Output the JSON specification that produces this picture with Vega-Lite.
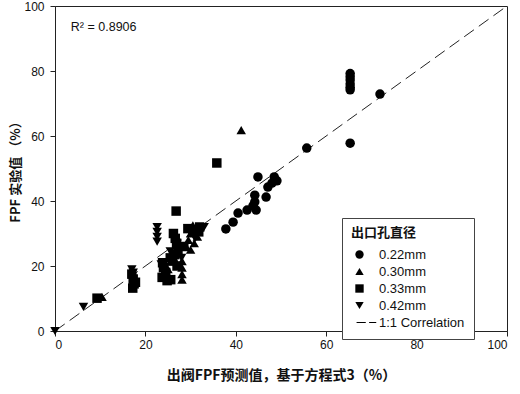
{
  "$schema": "https://vega.github.io/schema/vega-lite/v6.json",
  "width": 452,
  "height": 325,
  "autosize": {"type": "none"},
  "padding": {"left": 55, "top": 6, "right": 13, "bottom": 63},
  "background": "white",
  "config": {
    "view": {"stroke": "#222", "strokeWidth": 1},
    "font": "Liberation Sans",
    "axis": {
      "grid": false,
      "domainColor": "#222",
      "tickColor": "#222",
      "tickSize": 5,
      "labelFont": "Liberation Sans",
      "labelFontSize": 12,
      "labelColor": "#111",
      "titleFont": "Noto Sans CJK SC",
      "titleFontWeight": "bold",
      "titleColor": "#111"
    }
  },
  "datasets": {
    "pts": [
      {"x": 65.3, "y": 79.2, "d": "0.22mm"},
      {"x": 65.3, "y": 78.2, "d": "0.22mm"},
      {"x": 65.3, "y": 77.2, "d": "0.22mm"},
      {"x": 65.3, "y": 76.0, "d": "0.22mm"},
      {"x": 65.3, "y": 75.0, "d": "0.22mm"},
      {"x": 65.3, "y": 74.2, "d": "0.22mm"},
      {"x": 71.9, "y": 72.9, "d": "0.22mm"},
      {"x": 65.3, "y": 57.8, "d": "0.22mm"},
      {"x": 55.7, "y": 56.3, "d": "0.22mm"},
      {"x": 44.9, "y": 47.4, "d": "0.22mm"},
      {"x": 48.5, "y": 47.4, "d": "0.22mm"},
      {"x": 49.1, "y": 46.2, "d": "0.22mm"},
      {"x": 48.0, "y": 45.5, "d": "0.22mm"},
      {"x": 47.1, "y": 44.3, "d": "0.22mm"},
      {"x": 44.2, "y": 41.8, "d": "0.22mm"},
      {"x": 46.7, "y": 41.2, "d": "0.22mm"},
      {"x": 44.2, "y": 39.7, "d": "0.22mm"},
      {"x": 43.8, "y": 38.5, "d": "0.22mm"},
      {"x": 44.5, "y": 37.2, "d": "0.22mm"},
      {"x": 42.5, "y": 37.2, "d": "0.22mm"},
      {"x": 40.5, "y": 36.3, "d": "0.22mm"},
      {"x": 39.4, "y": 33.5, "d": "0.22mm"},
      {"x": 37.8, "y": 31.4, "d": "0.22mm"},
      {"x": 41.2, "y": 61.8, "d": "0.30mm"},
      {"x": 10.4, "y": 10.5, "d": "0.30mm"},
      {"x": 28.1, "y": 21.5, "d": "0.30mm"},
      {"x": 28.1, "y": 19.5, "d": "0.30mm"},
      {"x": 28.1, "y": 17.5, "d": "0.30mm"},
      {"x": 28.1, "y": 15.8, "d": "0.30mm"},
      {"x": 30.5, "y": 32.5, "d": "0.30mm"},
      {"x": 31.0, "y": 31.0, "d": "0.30mm"},
      {"x": 30.0, "y": 30.0, "d": "0.30mm"},
      {"x": 31.5, "y": 29.0, "d": "0.30mm"},
      {"x": 29.5, "y": 28.0, "d": "0.30mm"},
      {"x": 30.8, "y": 27.0, "d": "0.30mm"},
      {"x": 29.0, "y": 26.0, "d": "0.30mm"},
      {"x": 30.0, "y": 25.0, "d": "0.30mm"},
      {"x": 27.5, "y": 24.0, "d": "0.30mm"},
      {"x": 26.5, "y": 22.0, "d": "0.30mm"},
      {"x": 25.0, "y": 19.0, "d": "0.30mm"},
      {"x": 35.8, "y": 51.7, "d": "0.33mm"},
      {"x": 26.8, "y": 36.9, "d": "0.33mm"},
      {"x": 9.3, "y": 10.1, "d": "0.33mm"},
      {"x": 17.0, "y": 17.5, "d": "0.33mm"},
      {"x": 17.3, "y": 16.0, "d": "0.33mm"},
      {"x": 17.5, "y": 14.5, "d": "0.33mm"},
      {"x": 17.2, "y": 13.2, "d": "0.33mm"},
      {"x": 17.8, "y": 15.0, "d": "0.33mm"},
      {"x": 23.8, "y": 21.0, "d": "0.33mm"},
      {"x": 24.0, "y": 19.5, "d": "0.33mm"},
      {"x": 24.5, "y": 18.0, "d": "0.33mm"},
      {"x": 23.7, "y": 16.5, "d": "0.33mm"},
      {"x": 24.8, "y": 15.5, "d": "0.33mm"},
      {"x": 25.6, "y": 15.8, "d": "0.33mm"},
      {"x": 26.2, "y": 30.0, "d": "0.33mm"},
      {"x": 26.6, "y": 28.5, "d": "0.33mm"},
      {"x": 26.9, "y": 27.0, "d": "0.33mm"},
      {"x": 27.2, "y": 25.0, "d": "0.33mm"},
      {"x": 26.5, "y": 23.5, "d": "0.33mm"},
      {"x": 26.0, "y": 21.5, "d": "0.33mm"},
      {"x": 30.5, "y": 30.8, "d": "0.33mm"},
      {"x": 29.4, "y": 31.5, "d": "0.33mm"},
      {"x": 31.8, "y": 30.5, "d": "0.33mm"},
      {"x": 32.0, "y": 32.0, "d": "0.33mm"},
      {"x": 28.5, "y": 26.0, "d": "0.33mm"},
      {"x": 25.5, "y": 22.5, "d": "0.33mm"},
      {"x": 27.0, "y": 20.0, "d": "0.33mm"},
      {"x": 0.0, "y": 0.0, "d": "0.42mm"},
      {"x": 6.3, "y": 7.4, "d": "0.42mm"},
      {"x": 22.6, "y": 32.0, "d": "0.42mm"},
      {"x": 22.6, "y": 30.5, "d": "0.42mm"},
      {"x": 22.6, "y": 29.0, "d": "0.42mm"},
      {"x": 22.6, "y": 27.5, "d": "0.42mm"},
      {"x": 17.0, "y": 19.0, "d": "0.42mm"},
      {"x": 17.3, "y": 18.0, "d": "0.42mm"},
      {"x": 23.5, "y": 20.5, "d": "0.42mm"},
      {"x": 25.5, "y": 24.5, "d": "0.42mm"},
      {"x": 29.5, "y": 31.5, "d": "0.42mm"},
      {"x": 31.0, "y": 28.5, "d": "0.42mm"},
      {"x": 28.0, "y": 22.5, "d": "0.42mm"},
      {"x": 33.0, "y": 32.0, "d": "0.42mm"}
    ],
    "line": [{"x": 0, "y": 0}, {"x": 100, "y": 100}],
    "note": [{"x": 3.5, "y": 93.5, "t": "R² = 0.8906"}]
  },
  "layer": [
    {
      "data": {"name": "line"},
      "mark": {"type": "line", "color": "#222", "strokeWidth": 1, "strokeDash": [12, 6], "clip": true},
      "encoding": {
        "x": {"field": "x", "type": "quantitative"},
        "y": {"field": "y", "type": "quantitative"}
      }
    },
    {
      "data": {"name": "pts"},
      "mark": {"type": "point", "filled": true, "opacity": 1, "color": "black", "size": 90},
      "encoding": {
        "x": {
          "field": "x", "type": "quantitative",
          "scale": {"domain": [0, 100], "nice": false, "zero": false},
          "axis": {"values": [0, 20, 40, 60, 80, 100], "title": "出阀FPF预测值，基于方程式3（%）", "titleFontSize": 14, "titlePadding": 18, "labelPadding": 3}
        },
        "y": {
          "field": "y", "type": "quantitative",
          "scale": {"domain": [0, 100], "nice": false, "zero": false},
          "axis": {"values": [0, 20, 40, 60, 80, 100], "title": "FPF 实验值 （%）", "titleFontSize": 13, "titlePadding": 1, "labelPadding": 6}
        },
        "shape": {
          "field": "d", "type": "nominal",
          "scale": {
            "domain": ["0.22mm", "0.30mm", "0.33mm", "0.42mm", "1:1 Correlation"],
            "range": ["circle", "triangle-up", "square", "triangle-down", "M-0.7,-0.12H1.5V0.12H-0.7ZM2.3,-0.12H4.0V0.12H2.3Z"]
          },
          "legend": {
            "title": "出口孔直径",
            "titleFont": "Noto Sans CJK SC",
            "titleFontWeight": "bold",
            "titleFontSize": 13,
            "titleColor": "#111",
            "titlePadding": 8,
            "labelFont": "Liberation Sans",
            "labelFontSize": 13,
            "labelColor": "#111",
            "labelOffset": 13,
            "symbolSize": 70,
            "symbolFillColor": "black",
            "symbolStrokeColor": "black",
            "symbolStrokeWidth": 0.5,
            "rowPadding": 3,
            "orient": "none",
            "legendX": 287,
            "legendY": 212,
            "padding": 9,
            "strokeColor": "#444",
            "fillColor": "white",
            "symbolOffset": 2
          }
        }
      }
    },
    {
      "data": {"name": "note"},
      "mark": {"type": "text", "align": "left", "baseline": "middle", "fontSize": 12.5, "font": "Liberation Sans", "color": "#111"},
      "encoding": {
        "x": {"field": "x", "type": "quantitative"},
        "y": {"field": "y", "type": "quantitative"},
        "text": {"field": "t"}
      }
    }
  ]
}
